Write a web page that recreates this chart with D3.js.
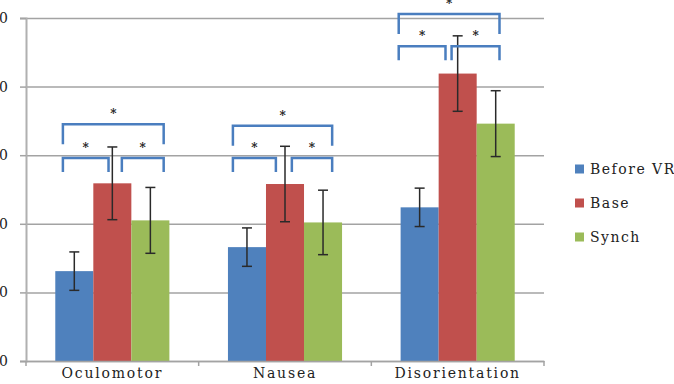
<!DOCTYPE html>
<html>
<head>
<meta charset="utf-8">
<script src="https://cdn.jsdelivr.net/npm/d3@7"></script>
<style>
  body { margin: 0; background: #fff; }
  text { font-family: 'DejaVu Serif', serif; fill: #222; }
</style>
</head>
<body>
<div id="chart"></div>
<script>
// Data
const categories = ['Oculomotor', 'Nausea', 'Disorientation']
const series = ['Before VR', 'Base', 'Synch']
const colors = ['#4F81BD', '#C0504D', '#9BBB59']
const means = [
  [13.1, 25.9, 20.5],
  [16.6, 25.8, 20.2],
  [22.4, 41.9, 34.6]
]
const errors = [
  [2.8, 5.3, 4.8],
  [2.8, 5.5, 4.7],
  [2.8, 5.5, 4.8]
]
const yTicks = [0, 10, 20, 30, 40, 50]
// significance brackets: level (y value) and ends in bar units within the group
const bracketLow = [29.6, 29.6, 45.9]
const bracketHigh = [34.5, 34.3, 50.6]
const bracketEnds = [
  { left: [0.2, 1.4], right: [1.75, 2.85], top: [0.2, 2.85] },
  { left: [0.13, 1.26], right: [1.68, 2.74], top: [0.13, 2.74] },
  { left: [-0.05, 1.18], right: [1.34, 2.6], top: [-0.05, 2.6] }
]

const width = 674
const height = 384
const plot = { left: 26, right: 544, top: 18, bottom: 361 }

const svg = d3.select('#chart')
  .append('svg')
  .attr('width', width)
  .attr('height', height)

// Scales
const x = d3.scaleBand().domain(categories).range([plot.left, plot.right]).padding(0)
const xSub = d3.scaleBand().domain(series).range([0, x.bandwidth()]).paddingOuter(0.77)
const y = d3.scaleLinear().domain([0, 50]).range([plot.bottom, plot.top])

// Gridlines
svg.append('g')
  .attr('transform', `translate(${plot.left},0)`)
  .call(d3.axisLeft(y).tickValues(yTicks).tickSize(-(plot.right - plot.left)).tickFormat(''))
  .call(g => g.select('.domain').remove())
  .call(g => g.selectAll('line').attr('stroke', '#a3a3a3').attr('stroke-width', 1.5))

// Left axis
svg.append('g')
  .attr('transform', `translate(${plot.left},0)`)
  .call(d3.axisLeft(y).tickValues(yTicks).tickSize(6).tickPadding(12))
  .call(g => g.select('.domain').attr('stroke', '#b0b0b0').attr('stroke-width', 2))
  .call(g => g.selectAll('line').attr('stroke', '#a3a3a3').attr('stroke-width', 1.5))
  .call(g => g.selectAll('text')
    .attr('font-family', 'DejaVu Serif')
    .attr('font-size', 14)
    .attr('fill', '#222'))

// Bars
const groups = svg.append('g')
  .selectAll('g')
  .data(categories)
  .join('g')
  .attr('transform', d => `translate(${x(d)},0)`)

groups.selectAll('rect')
  .data((d, i) => means[i].map((v, j) => ({ v, j })))
  .join('rect')
  .attr('x', d => xSub(series[d.j]))
  .attr('y', d => y(d.v))
  .attr('width', xSub.bandwidth())
  .attr('height', d => y(0) - y(d.v))
  .attr('fill', d => colors[d.j])

// Error bars
const errG = groups.selectAll('g.err')
  .data((d, i) => means[i].map((v, j) => ({ v, e: errors[i][j], j })))
  .join('g')
  .attr('class', 'err')
  .attr('transform', d => `translate(${xSub(series[d.j]) + xSub.bandwidth() / 2},0)`)
  .attr('stroke', '#2a2a2a')
  .attr('stroke-width', 1.5)

errG.append('line')
  .attr('y1', d => y(d.v + d.e))
  .attr('y2', d => y(d.v - d.e))
errG.append('line')
  .attr('x1', -5).attr('x2', 5)
  .attr('y1', d => y(d.v + d.e)).attr('y2', d => y(d.v + d.e))
errG.append('line')
  .attr('x1', -5).attr('x2', 5)
  .attr('y1', d => y(d.v - d.e)).attr('y2', d => y(d.v - d.e))

// X axis
svg.append('g')
  .attr('transform', `translate(0,${plot.bottom})`)
  .call(d3.axisBottom(x).tickSize(0).tickPadding(7))
  .call(g => g.select('.domain').attr('stroke', '#a3a3a3').attr('stroke-width', 1.5))
  .call(g => g.selectAll('text')
    .attr('font-family', 'DejaVu Serif')
    .attr('font-size', 14)
    .attr('letter-spacing', 1.8)
    .attr('fill', '#222'))

svg.append('g')
  .selectAll('line')
  .data(d3.range(categories.length + 1))
  .join('line')
  .attr('x1', i => plot.left + i * x.step())
  .attr('x2', i => plot.left + i * x.step())
  .attr('y1', plot.bottom)
  .attr('y2', plot.bottom + 5)
  .attr('stroke', '#a3a3a3')
  .attr('stroke-width', 1.5)

// Significance brackets
const bu = (cat, u) => x(cat) + xSub(series[0]) + u * xSub.step()
const brG = svg.append('g')

categories.forEach((cat, i) => {
  const parts = [
    { ends: bracketEnds[i].left, level: bracketLow[i], leg: 14 },
    { ends: bracketEnds[i].right, level: bracketLow[i], leg: 14 },
    { ends: bracketEnds[i].top, level: bracketHigh[i], leg: 20 }
  ]
  parts.forEach(p => {
    const x0 = bu(cat, p.ends[0])
    const x1 = bu(cat, p.ends[1])
    const yy = y(p.level)
    brG.append('path')
      .attr('d', `M${x0},${yy + p.leg}V${yy}H${x1}V${yy + p.leg}`)
      .attr('fill', 'none')
      .attr('stroke', '#4a7ebf')
      .attr('stroke-width', 2.5)
    brG.append('text')
      .attr('x', (x0 + x1) / 2)
      .attr('y', yy - 6)
      .attr('text-anchor', 'middle')
      .attr('font-size', 12)
      .attr('font-weight', 'bold')
      .attr('fill', '#333')
      .text('*')
  })
})

// Legend
const legend = svg.append('g')
  .selectAll('g')
  .data(series)
  .join('g')
  .attr('transform', (d, i) => `translate(575,${169 + i * 34})`)

legend.append('rect')
  .attr('x', 0).attr('y', -4.5)
  .attr('width', 9).attr('height', 9)
  .attr('fill', (d, i) => colors[i])

legend.append('text')
  .attr('x', 15)
  .attr('y', 5)
  .attr('font-size', 14)
  .attr('letter-spacing', 1.5)
  .text(d => d)
</script>
</body>
</html>
